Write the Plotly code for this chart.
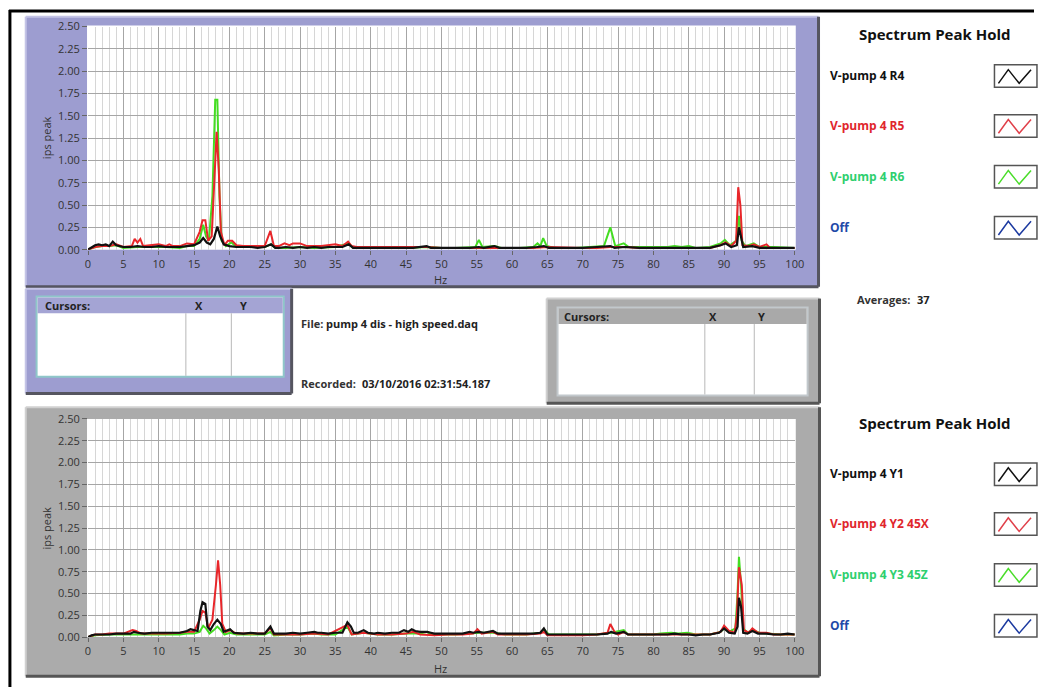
import plotly.graph_objects as go

# ---------------- spectrum data (Hz, ips peak) ----------------
# upper graph: R4 / R5 / R6
r4_hz = [0, 0.5, 1, 1.5, 2, 2.5, 3, 3.5, 4, 5, 6, 7, 8, 9, 10, 11, 12, 13, 14, 15, 15.8, 16.3, 16.8, 17.3,
         17.8, 18.3, 18.7, 19.2, 20, 21, 22, 23, 24, 25, 25.9, 26.5, 27, 28, 29, 30, 31, 32, 33, 34, 35, 36,
         36.9, 37.5, 38, 40, 42, 44, 46, 47.9, 48.5, 50, 52, 54, 55.3, 56, 57.5, 58.2, 60, 62, 63.5, 64.5,
         65.2, 67, 70, 72, 73.9, 74.5, 76, 78, 80, 82, 84, 86, 88, 89.5, 90.2, 91, 91.8, 92.1, 92.4, 92.7,
         94, 95, 97, 100]
r4_amp = [0.00, 0.03, 0.05, 0.06, 0.05, 0.06, 0.04, 0.09, 0.05, 0.03, 0.03, 0.04, 0.03, 0.03, 0.04, 0.03,
          0.03, 0.03, 0.04, 0.05, 0.08, 0.13, 0.08, 0.06, 0.12, 0.26, 0.15, 0.06, 0.04, 0.03, 0.03, 0.03,
          0.02, 0.03, 0.06, 0.02, 0.02, 0.03, 0.02, 0.03, 0.02, 0.03, 0.02, 0.03, 0.03, 0.03, 0.06, 0.02,
          0.02, 0.02, 0.02, 0.02, 0.02, 0.04, 0.02, 0.02, 0.02, 0.02, 0.03, 0.02, 0.04, 0.02, 0.02, 0.02,
          0.03, 0.04, 0.02, 0.02, 0.02, 0.03, 0.04, 0.02, 0.03, 0.02, 0.02, 0.02, 0.02, 0.02, 0.02, 0.05,
          0.07, 0.03, 0.05, 0.25, 0.12, 0.03, 0.04, 0.02, 0.02, 0.02]

r5_hz = [0, 1, 2, 3, 4, 5, 6.2, 6.6, 7, 7.4, 7.8, 9, 10, 11, 11.5, 12, 13, 14, 15, 15.8, 16.2, 16.6, 17,
         17.5, 17.9, 18.2, 18.5, 18.8, 19.3, 19.8, 20.4, 21, 22, 23, 24, 25, 25.8, 26.3, 27, 27.8, 28.5,
         29, 30, 31, 33, 34.5, 35, 36, 36.8, 37.3, 38, 40, 42, 44, 46, 48, 50, 52, 55, 58, 60, 63, 65, 68,
         70, 72, 74, 76, 78, 80, 83, 86, 88, 89.5, 90.2, 91, 91.7, 92.0, 92.3, 92.6, 93.5, 94.2, 95, 96,
         96.5, 98, 100]
r5_amp = [0.00, 0.03, 0.04, 0.04, 0.06, 0.03, 0.04, 0.12, 0.08, 0.12, 0.04, 0.05, 0.06, 0.04, 0.06, 0.04,
          0.04, 0.07, 0.06, 0.20, 0.33, 0.33, 0.10, 0.15, 0.90, 1.32, 0.90, 0.20, 0.05, 0.10, 0.10, 0.05,
          0.04, 0.04, 0.04, 0.04, 0.21, 0.04, 0.04, 0.07, 0.05, 0.07, 0.07, 0.04, 0.04, 0.05, 0.06, 0.04,
          0.09, 0.04, 0.03, 0.03, 0.03, 0.03, 0.03, 0.03, 0.02, 0.02, 0.02, 0.02, 0.02, 0.02, 0.03, 0.02,
          0.02, 0.02, 0.03, 0.03, 0.02, 0.02, 0.02, 0.02, 0.02, 0.05, 0.08, 0.04, 0.10, 0.70, 0.50, 0.05,
          0.04, 0.06, 0.03, 0.06, 0.02, 0.02, 0.02]

r6_hz = [0, 1, 2, 3, 4, 5, 7, 9, 11, 13, 14, 15, 15.8, 16.3, 16.7, 17.1, 17.6, 18.0, 18.3, 18.6, 18.9,
         19.5, 20.3, 21, 23, 25, 25.9, 26.5, 28, 30, 32, 35, 36.9, 37.5, 40, 42, 45, 48, 50, 52, 54.8,
         55.3, 55.8, 57.5, 58.5, 61, 63, 63.6, 64, 64.4, 64.9, 66, 69, 71, 73, 73.9, 74.6, 75.8, 76.5, 78,
         80, 82, 83, 84, 85, 86, 88, 89.5, 90.1, 90.8, 91.7, 92.1, 92.5, 93, 94.2, 95, 97, 100]
r6_amp = [0.00, 0.03, 0.04, 0.04, 0.05, 0.02, 0.03, 0.03, 0.03, 0.02, 0.04, 0.04, 0.12, 0.28, 0.15, 0.10,
          0.60, 1.68, 1.68, 0.60, 0.10, 0.04, 0.08, 0.03, 0.03, 0.03, 0.06, 0.02, 0.02, 0.03, 0.02, 0.03,
          0.07, 0.02, 0.02, 0.02, 0.02, 0.03, 0.02, 0.02, 0.03, 0.11, 0.03, 0.04, 0.02, 0.02, 0.03, 0.07,
          0.04, 0.13, 0.04, 0.02, 0.02, 0.03, 0.04, 0.25, 0.04, 0.07, 0.03, 0.03, 0.03, 0.03, 0.04, 0.03,
          0.04, 0.02, 0.03, 0.07, 0.11, 0.05, 0.10, 0.38, 0.10, 0.04, 0.07, 0.03, 0.03, 0.02]

# lower graph: Y1 / Y2 45X / Y3 45Z
y1_hz = [0, 0.5, 1, 2, 3, 4, 5, 6, 6.5, 7, 8, 9, 10, 11, 12, 13, 14, 14.5, 15, 15.5, 15.9, 16.2, 16.6,
         16.9, 17.3, 17.8, 18.3, 18.8, 19.2, 19.7, 20.1, 20.6, 21.5, 22, 23, 24, 25, 25.8, 26.3, 27, 28,
         29, 30, 31, 32, 32.5, 33, 34, 35, 36, 36.7, 37.2, 37.6, 38.2, 39, 39.6, 40.5, 41, 42, 43, 44,
         44.7, 45.3, 45.8, 46.3, 47, 48, 48.5, 49, 50, 51, 52, 53, 54, 54.5, 55.3, 56, 57.3, 58, 59, 60,
         61, 62, 63, 64, 64.5, 65, 66, 68, 70, 72, 73.5, 74, 74.7, 75.8, 76.4, 78, 80, 81, 82, 83, 84, 85,
         86, 87, 88, 89.3, 90, 90.7, 91.5, 91.9, 92.1, 92.4, 92.7, 93.3, 94, 94.8, 96, 97, 98, 99, 100]
y1_amp = [0.00, 0.02, 0.03, 0.03, 0.03, 0.04, 0.04, 0.04, 0.06, 0.05, 0.04, 0.05, 0.05, 0.05, 0.05, 0.05,
          0.07, 0.09, 0.08, 0.07, 0.30, 0.40, 0.38, 0.12, 0.08, 0.15, 0.20, 0.15, 0.06, 0.08, 0.09, 0.05,
          0.04, 0.04, 0.05, 0.04, 0.04, 0.12, 0.04, 0.04, 0.04, 0.05, 0.04, 0.05, 0.06, 0.05, 0.05, 0.04,
          0.05, 0.05, 0.17, 0.12, 0.05, 0.05, 0.08, 0.05, 0.04, 0.05, 0.04, 0.05, 0.05, 0.08, 0.06, 0.09,
          0.07, 0.06, 0.06, 0.05, 0.04, 0.04, 0.04, 0.04, 0.04, 0.06, 0.05, 0.06, 0.05, 0.07, 0.04, 0.04,
          0.04, 0.04, 0.04, 0.04, 0.05, 0.10, 0.03, 0.03, 0.03, 0.03, 0.03, 0.04, 0.06, 0.04, 0.06, 0.03,
          0.03, 0.03, 0.03, 0.03, 0.04, 0.03, 0.03, 0.02, 0.03, 0.03, 0.05, 0.10, 0.05, 0.04, 0.12, 0.45,
          0.35, 0.05, 0.04, 0.07, 0.04, 0.04, 0.03, 0.03, 0.04, 0.03]

y2_hz = [0, 1, 2, 3, 4, 5, 6.3, 6.8, 7.5, 9, 11, 13, 14, 15, 15.8, 16.2, 16.6, 17, 17.6, 18.1, 18.4,
         18.7, 19.0, 19.5, 20.1, 21, 23, 25, 25.8, 26.3, 28, 30, 32, 34, 36.7, 37.3, 39, 41, 43, 45, 46,
         47, 49, 51, 53, 54.5, 55.1, 55.7, 57.3, 58, 60, 62, 64, 64.5, 65, 67, 70, 72, 73.5, 73.9, 74.5,
         75, 75.8, 76.4, 78, 80, 83, 86, 88, 89.5, 90, 90.7, 91.5, 91.8, 92.1, 92.5, 92.8, 93.5, 94, 94.8,
         96, 97, 100]
y2_amp = [0.00, 0.03, 0.03, 0.04, 0.04, 0.04, 0.08, 0.07, 0.04, 0.04, 0.04, 0.05, 0.06, 0.06, 0.20, 0.30,
          0.28, 0.10, 0.20, 0.60, 0.88, 0.60, 0.15, 0.06, 0.08, 0.04, 0.04, 0.04, 0.10, 0.03, 0.03, 0.03,
          0.04, 0.03, 0.14, 0.03, 0.05, 0.03, 0.03, 0.04, 0.06, 0.03, 0.02, 0.03, 0.03, 0.04, 0.09, 0.04,
          0.06, 0.03, 0.03, 0.03, 0.04, 0.06, 0.02, 0.02, 0.02, 0.03, 0.05, 0.15, 0.06, 0.03, 0.06, 0.03,
          0.03, 0.03, 0.03, 0.03, 0.03, 0.06, 0.13, 0.07, 0.05, 0.25, 0.80, 0.60, 0.08, 0.05, 0.10, 0.05,
          0.05, 0.03, 0.03]

y3_hz = [0, 1, 3, 5, 7, 9, 11, 13, 14, 15, 15.8, 16.3, 16.7, 17.2, 17.8, 18.3, 18.8, 19.3, 20.1, 21, 23,
         25, 25.8, 26.3, 28, 30, 32, 33, 35, 36.7, 37.3, 39, 41, 43, 45, 47, 48, 48.5, 50, 52, 54, 55.3,
         57.3, 59, 62, 64, 64.5, 65.2, 68, 70, 72, 74, 75.8, 76.4, 78, 80, 81, 82.5, 83.5, 84.8, 86, 88,
         89.5, 90, 90.7, 91.6, 91.9, 92.1, 92.4, 92.7, 93.3, 94, 95, 96, 98, 100]
y3_amp = [0.00, 0.02, 0.03, 0.03, 0.03, 0.03, 0.03, 0.03, 0.04, 0.04, 0.06, 0.13, 0.10, 0.04, 0.08, 0.12,
          0.08, 0.03, 0.05, 0.03, 0.03, 0.03, 0.06, 0.02, 0.03, 0.03, 0.04, 0.03, 0.03, 0.12, 0.03, 0.05,
          0.03, 0.03, 0.04, 0.04, 0.06, 0.03, 0.03, 0.03, 0.04, 0.05, 0.05, 0.03, 0.03, 0.05, 0.09, 0.03,
          0.03, 0.03, 0.03, 0.05, 0.08, 0.03, 0.03, 0.03, 0.04, 0.05, 0.04, 0.05, 0.03, 0.03, 0.06, 0.10,
          0.06, 0.10, 0.50, 0.92, 0.60, 0.10, 0.05, 0.08, 0.05, 0.04, 0.03, 0.03]

upper_names = ["V-pump 4 R4", "V-pump 4 R5", "V-pump 4 R6", "Off"]
lower_names = ["V-pump 4 Y1", "V-pump 4 Y2 45X", "V-pump 4 Y3 45Z", "Off"]
file_name = "pump 4 dis - high speed.daq"
recorded = "03/10/2016 02:31:54.187"
averages = "37"

y_ticks = [0.0, 0.25, 0.5, 0.75, 1.0, 1.25, 1.5, 1.75, 2.0, 2.25, 2.5]
x_ticks = list(range(0, 101, 5))

# ---------------- page geometry helpers (pixels -> paper) ----------------
W, H = 1043, 694
FONT = "Open Sans"


def fx(p):
    return p / W


def fy(p):
    return 1 - p / H


def rect(x0, y0, x1, y1, fill=None, line=None, lw=0):
    d = dict(type="rect", xref="paper", yref="paper", layer="below",
             x0=fx(x0), x1=fx(x1), y0=fy(y1), y1=fy(y0),
             line=dict(width=lw, color=line or "rgba(0,0,0,0)"))
    if fill:
        d["fillcolor"] = fill
    return d


def seg(x0, y0, x1, y1, color, lw=1, layer="below"):
    return dict(type="line", xref="paper", yref="paper", layer=layer,
                x0=fx(x0), x1=fx(x1), y0=fy(y0), y1=fy(y1),
                line=dict(color=color, width=lw))


def text(x, y, s, size=11, color="#222", bold=False, anchor="left", angle=0):
    return dict(xref="paper", yref="paper", x=fx(x), y=fy(y), text=f"<b>{s}</b>" if bold else s,
                showarrow=False, xanchor=anchor, yanchor="middle", textangle=angle, borderpad=0,
                font=dict(family=FONT, size=size, color=color))


PURPLE = "#9d9dd0"
GRAY = "#ababab"
BLACK = "#111111"
RED = "#e8262a"
LIME = "#44dd22"
LABEL_COLORS = [BLACK, "#e0262c", "#2ecf6e", "#1f4aa8"]
SWATCH_COLORS = [BLACK, "#e0404a", "#4add2a", "#1c3aa0"]

shapes = []
annotations = []


def panel(x0, y0, x1, y1, fill, light, dark):
    shapes.append(rect(x0, y0, x1, y1, fill=fill))
    shapes.append(seg(x0, y0, x1, y0, light, 2))
    shapes.append(seg(x0, y0, x0, y1, light, 2))
    shapes.append(seg(x1, y0, x1, y1, dark, 3))
    shapes.append(seg(x0, y1, x1, y1, dark, 3))


# graph panels
panel(23, 9, 825, 285, PURPLE, "#c4c4e6", "#555560")
shapes.append(rect(85, 18, 802, 247, fill="white"))
panel(23, 408, 826, 683, GRAY, "#d0d0d0", "#555555")
shapes.append(rect(85, 420, 802, 643, fill="white"))

# cursor tables
panel(23, 287, 292, 394, PURPLE, "#c4c4e6", "#555560")
shapes.append(rect(34, 295, 284, 377, fill="white", line="#8fc7c9", lw=2))
shapes.append(rect(35, 296, 283, 312, fill="#a4a4d4"))
shapes.append(seg(185, 312, 185, 376, "#b8b8b8", 1))
shapes.append(seg(231, 312, 231, 376, "#b8b8b8", 1))
annotations += [text(41, 304, "Cursors:", 11, "#222", True),
                text(193, 304, "X", 11, "#222", True),
                text(239, 304, "Y", 11, "#222", True)]

panel(550, 297, 826, 404, GRAY, "#d0d0d0", "#555555")
shapes.append(rect(561, 306, 814, 396, fill="white", line="#c2c8cc", lw=2))
shapes.append(rect(562, 307, 813, 323, fill="#a9a9a9"))
shapes.append(seg(710, 323, 710, 395, "#b8b8b8", 1))
shapes.append(seg(760, 323, 760, 395, "#b8b8b8", 1))
annotations += [text(567, 315, "Cursors:", 11, "#222", True),
                text(713, 315, "X", 11, "#222", True),
                text(763, 315, "Y", 11, "#222", True)]

# file information
annotations += [text(300, 322, "File:", 11, "#333", True),
                text(326, 322, file_name, 11, "#222", True),
                text(300, 384, "Recorded:", 11, "#333", True),
                text(362, 384, recorded, 11, "#222", True),
                text(863, 298, "Averages:", 11, "#333", True),
                text(924, 298, averages, 11, "#222", True)]

# axis captions
for top, bot in ((18, 247), (420, 643)):
    annotations.append(text(44, (top + bot) / 2, "ips peak", 11, "#333", angle=-90, anchor="center"))
annotations.append(text(443, 277, "Hz", 11, "#333", anchor="center"))
annotations.append(text(443, 675, "Hz", 11, "#333", anchor="center"))

# plot legends with zig-zag swatches
for title_y, rows, names in ((27, [69, 120, 172, 224], upper_names),
                             (424, [476, 527, 579, 631], lower_names)):
    annotations.append(text(943, title_y, "Spectrum Peak Hold", 15, "#111", True, anchor="center"))
    for i, (ry, nm) in enumerate(zip(rows, names)):
        annotations.append(text(836, ry, nm, 12, LABEL_COLORS[i], True))
        shapes.append(dict(type="rect", xref="paper", yref="paper", layer="above",
                           x0=fx(1003), x1=fx(1046), y0=fy(ry + 12), y1=fy(ry - 11),
                           fillcolor="white", line=dict(color="#555", width=1.5)))
        pts = [(1007, ry + 8), (1017, ry - 6), (1028, ry + 8), (1040, ry - 6)]
        path = "M " + " L ".join(f"{fx(px)},{fy(py)}" for px, py in pts)
        shapes.append(dict(type="path", xref="paper", yref="paper", layer="above", path=path,
                           line=dict(color=SWATCH_COLORS[i], width=1.5)))

# outer frame: left and top edges
shapes.append(seg(7, 2, 7, 694, "black", 3, "above"))
shapes.append(seg(6, 3, 1043, 3, "black", 3, "above"))

fig = go.Figure()

series = [
    ("x", "y", upper_names[2], r6_hz, r6_amp, LIME, 2),
    ("x", "y", upper_names[1], r5_hz, r5_amp, RED, 2),
    ("x", "y", upper_names[0], r4_hz, r4_amp, BLACK, 2.2),
    ("x2", "y2", lower_names[2], y3_hz, y3_amp, LIME, 2),
    ("x2", "y2", lower_names[1], y2_hz, y2_amp, RED, 2),
    ("x2", "y2", lower_names[0], y1_hz, y1_amp, BLACK, 2.2),
]
for xa, ya, nm, hz, amp, col, lw in series:
    fig.add_trace(go.Scatter(x=hz, y=amp, name=nm, mode="lines", xaxis=xa, yaxis=ya,
                             line=dict(color=col, width=lw), showlegend=False))


def xaxis(domain, anchor):
    return dict(domain=domain, anchor=anchor, range=[0, 100], tickvals=x_ticks,
                showgrid=True, gridcolor="#a6a6a6", gridwidth=1, zeroline=False, showline=False,
                ticks="outside", ticklen=4, tickcolor="#666", tickfont=dict(family=FONT, size=11, color="#333"),
                minor=dict(dtick=1, tick0=0, showgrid=True, gridcolor="#d6d6d6", gridwidth=1, ticks=""),
                fixedrange=True)


def yaxis(domain, anchor):
    return dict(domain=domain, anchor=anchor, range=[0, 2.5], tickvals=y_ticks, tickformat=".2f",
                showgrid=True, gridcolor="#a6a6a6", gridwidth=1, zeroline=False, showline=False,
                ticks="outside", ticklen=5, tickcolor="#666", tickfont=dict(family=FONT, size=11, color="#333"),
                fixedrange=True)


fig.update_layout(
    width=W, height=H, margin=dict(l=0, r=0, t=0, b=0),
    paper_bgcolor="white", plot_bgcolor="rgba(0,0,0,0)",
    showlegend=False,
    xaxis=xaxis([fx(86), fx(801)], "y"),
    yaxis=yaxis([fy(247), fy(19)], "x"),
    xaxis2=xaxis([fx(86), fx(801)], "y2"),
    yaxis2=yaxis([fy(643), fy(420)], "x2"),
    shapes=shapes, annotations=annotations,
)

fig.write_html("out.html")
